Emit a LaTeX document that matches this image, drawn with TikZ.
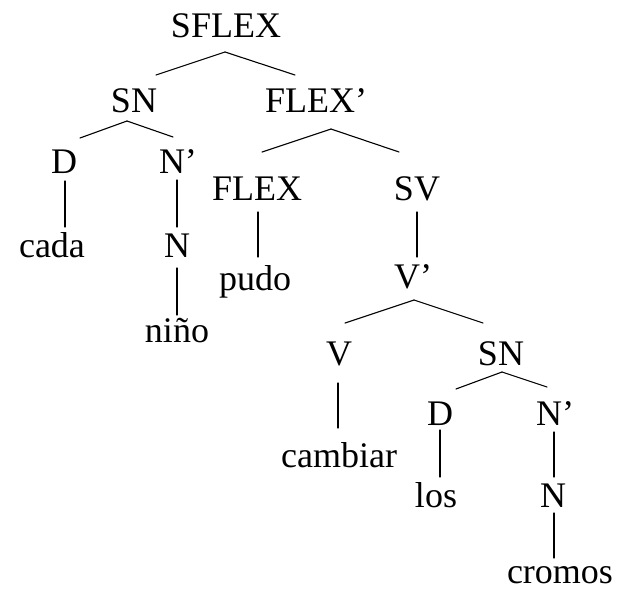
\documentclass[tikz,border=0pt]{standalone}
\usepackage{fontspec}
\setmainfont{Liberation Serif}
\tikzset{
  cat/.style={anchor=base, inner sep=0pt, font=\fontsize{36}{40}\selectfont},
  branch/.style={draw=black, line width=1.1pt, line cap=round},
}
\begin{document}
\begin{tikzpicture}[x=1pt,y=-1pt]
  \useasboundingbox (0,0) rectangle (622,592);
  % categories and words
  \node[cat] (sflex)   at (226,37)  {SFLEX};
  \node[cat] (sn1)     at (134,112) {SN};
  \node[cat] (flexbar) at (316,112) {FLEX’};
  \node[cat] (d1)      at (64,173)  {D};
  \node[cat] (nbar1)   at (178,173) {N’};
  \node[cat] (flex)    at (257,200) {FLEX};
  \node[cat] (sv)      at (417,200) {SV};
  \node[cat] (cada)    at (52,257)  {cada};
  \node[cat] (n1)      at (177,257) {N};
  \node[cat] (pudo)    at (255,290) {pudo};
  \node[cat] (vbar)    at (413,288) {V’};
  \node[cat] (nino)    at (177,342) {niño};
  \node[cat] (v)       at (339,365) {V};
  \node[cat] (sn2)     at (501,365) {SN};
  \node[cat] (d2)      at (440,425) {D};
  \node[cat] (nbar2)   at (555,425) {N’};
  \node[cat] (cambiar) at (339,467) {cambiar};
  \node[cat] (los)     at (436,507) {los};
  \node[cat] (n2)      at (553,507) {N};
  \node[cat] (cromos)  at (560,583) {cromos};
  % branch ends
  \coordinate (sflex-dn)   at (225,52);
  \coordinate (sn1-up)     at (156,75);
  \coordinate (flexbar-up) at (295,75);
  \coordinate (sn1-dn)     at (127,121);
  \coordinate (d1-up)      at (80,138);
  \coordinate (nbar1-up)   at (173,137);
  \coordinate (d1-dn)      at (65,181);
  \coordinate (cada-up)    at (65,227);
  \coordinate (nbar1-dn)   at (177,180);
  \coordinate (n1-up)      at (177,227);
  \coordinate (n1-dn)      at (177,268);
  \coordinate (nino-up)    at (177,315);
  \coordinate (flexbar-dn) at (331,129);
  \coordinate (flex-up)    at (262,152);
  \coordinate (sv-up)      at (399,152);
  \coordinate (flex-dn)    at (258,212);
  \coordinate (pudo-up)    at (258,257);
  \coordinate (sv-dn)      at (417,212);
  \coordinate (vbar-up)    at (417,257);
  \coordinate (vbar-dn)    at (414,300);
  \coordinate (v-up)       at (345,323);
  \coordinate (sn2-up)     at (483,323);
  \coordinate (v-dn)       at (338,383);
  \coordinate (cambiar-up) at (338,428);
  \coordinate (sn2-dn)     at (502,372);
  \coordinate (d2-up)      at (456,389);
  \coordinate (nbar2-up)   at (547,387);
  \coordinate (d2-dn)      at (440,430);
  \coordinate (los-up)     at (440,477);
  \coordinate (nbar2-dn)   at (554,432);
  \coordinate (n2-up)      at (554,477);
  \coordinate (n2-dn)      at (554,513);
  \coordinate (cromos-up)  at (554,558);
  % branches
  \foreach \a/\b in {sflex/sn1,sflex/flexbar,sn1/d1,sn1/nbar1,d1/cada,nbar1/n1,n1/nino,
                     flexbar/flex,flexbar/sv,flex/pudo,sv/vbar,vbar/v,vbar/sn2,v/cambiar,
                     sn2/d2,sn2/nbar2,d2/los,nbar2/n2,n2/cromos}
    \draw[branch] (\a-dn) -- (\b-up);
\end{tikzpicture}
\end{document}
